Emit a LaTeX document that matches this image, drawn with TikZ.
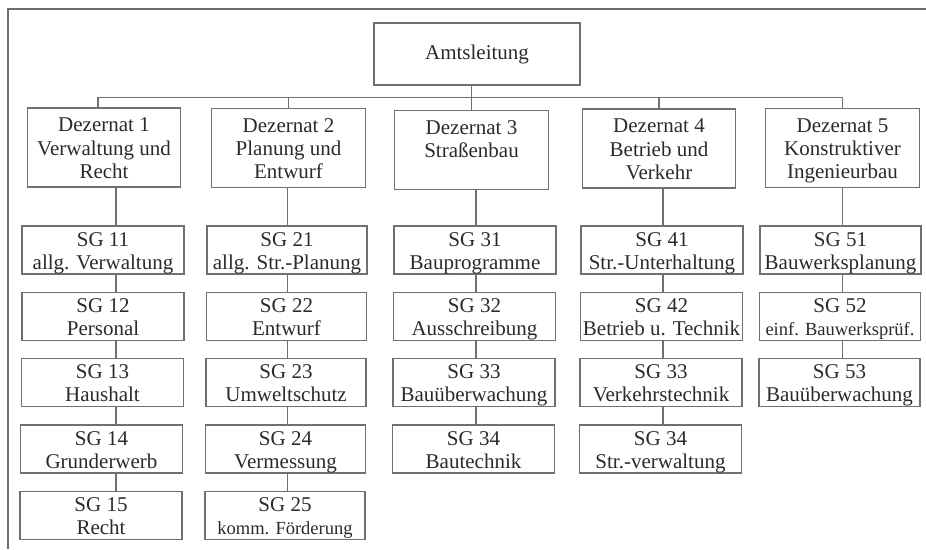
\documentclass[tikz,border=0pt]{standalone}
\usepackage{fontspec}
\setmainfont{Liberation Serif}
\usetikzlibrary{calc}

% struts that fix the first baseline and the last depth inside a box
\newcommand\sgtopstrut{\rule{0pt}{20pt}}
\newcommand\sgbotstrut{\rule[-4.7pt]{0pt}{4.7pt}}
\newcommand\deztopstrut{\rule{0pt}{23.7pt}}
\newcommand\dezbotstrut{\rule[-8.4pt]{0pt}{8.4pt}}
\newcommand\smalltxt[1]{{\fontsize{18.5}{23.3}\selectfont #1}}

\definecolor{framegray}{HTML}{6E6E6E}
\definecolor{boxgray}{HTML}{707070}
\definecolor{textgray}{HTML}{2A2A2A}

\begin{document}
\begin{tikzpicture}[x=1pt,y=-1pt,
  orgbox/.style={draw=boxgray,line width=1.3pt,rectangle,inner sep=0pt,
    align=center,text=textgray,font=\fontsize{21}{23.3}\selectfont},
  headbox/.style={orgbox,minimum width=206pt,minimum height=62pt},
  dezbox/.style={orgbox,minimum width=153.5pt,minimum height=79pt},
  sgbox/.style={orgbox,minimum height=48pt},
  link/.style={draw=boxgray,line width=1.3pt},
  frameline/.style={draw=framegray,line width=2pt}]

\useasboundingbox (0,0) rectangle (926,549);

% open frame: top and left edge only
\coordinate (fcorner) at (8,9);
\coordinate (fright) at (926,9);
\coordinate (fbottom) at (8,549);
\draw[frameline] (fright) -- (fcorner) -- (fbottom);

% top level
\node[headbox] (amt) at (477,54) {Amtsleitung};

% departments
\node[dezbox] (d1) at (104,147.5) {\deztopstrut Dezernat 1\\Verwaltung und\\Recht\dezbotstrut};
\node[dezbox] (d2) at (288.5,148) {\deztopstrut Dezernat 2\\Planung und\\Entwurf\dezbotstrut};
\node[dezbox] (d3) at (471.5,150) {\deztopstrut Dezernat 3\\Straßenbau\\\dezbotstrut};
\node[dezbox] (d4) at (659,148.5) {\deztopstrut Dezernat 4\\Betrieb und\\Verkehr\dezbotstrut};
\node[dezbox] (d5) at (842.5,148) {\deztopstrut Dezernat 5\\Konstruktiver\\Ingenieurbau\dezbotstrut};

% column 1
\begin{scope}[every node/.style={sgbox,minimum width=162pt}]
\node (sg11) at (103,250)   {\sgtopstrut SG 11\\allg. Verwaltung\sgbotstrut};
\node (sg12) at (103,316.5) {\sgtopstrut SG 12\\Personal\sgbotstrut};
\node (sg13) at (102.5,382.5) {\sgtopstrut SG 13\\Haushalt\sgbotstrut};
\node (sg14) at (101.5,449) {\sgtopstrut SG 14\\Grunderwerb\sgbotstrut};
\node (sg15) at (101,515.5) {\sgtopstrut SG 15\\Recht\sgbotstrut};
\end{scope}

% column 2
\begin{scope}[every node/.style={sgbox,minimum width=160pt}]
\node (sg21) at (287,250)   {\sgtopstrut SG 21\\allg. Str.-Planung\sgbotstrut};
\node (sg22) at (286.5,316.5) {\sgtopstrut SG 22\\Entwurf\sgbotstrut};
\node (sg23) at (286,382.5) {\sgtopstrut SG 23\\Umweltschutz\sgbotstrut};
\node (sg24) at (285.5,449) {\sgtopstrut SG 24\\Vermessung\sgbotstrut};
\node (sg25) at (285,515.5) {\sgtopstrut SG 25\\\smalltxt{komm. Förderung}\sgbotstrut};
\end{scope}

% column 3
\begin{scope}[every node/.style={sgbox,minimum width=162pt}]
\node (sg31) at (475,250)   {\sgtopstrut SG 31\\Bauprogramme\sgbotstrut};
\node (sg32) at (474.5,316.5) {\sgtopstrut SG 32\\Ausschreibung\sgbotstrut};
\node (sg33) at (474,382.5) {\sgtopstrut SG 33\\Bauüberwachung\sgbotstrut};
\node (sg34) at (473.5,449) {\sgtopstrut SG 34\\Bautechnik\sgbotstrut};
\end{scope}

% column 4
\begin{scope}[every node/.style={sgbox,minimum width=162pt}]
\node (sg41) at (662,250)   {\sgtopstrut SG 41\\Str.-Unterhaltung\sgbotstrut};
\node (sg42) at (661.5,316.5) {\sgtopstrut SG 42\\Betrieb u. Technik\sgbotstrut};
\node (sg43) at (661,382.5) {\sgtopstrut SG 33\\Verkehrstechnik\sgbotstrut};
\node (sg44) at (660.5,449) {\sgtopstrut SG 34\\Str.-verwaltung\sgbotstrut};
\end{scope}

% column 5
\begin{scope}[every node/.style={sgbox,minimum width=161pt}]
\node (sg51) at (840.5,250)   {\sgtopstrut SG 51\\Bauwerksplanung\sgbotstrut};
\node (sg52) at (840,316.5) {\sgtopstrut SG 52\\\smalltxt{einf. Bauwerksprüf.}\sgbotstrut};
\node (sg53) at (839.5,382.5) {\sgtopstrut SG 53\\Bauüberwachung\sgbotstrut};
\end{scope}

% bus from the top level to the departments
\coordinate (j1) at (98,97.5);
\draw[link] (j1 |- d1.north) -- (j1) -- (d5.north |- j1) -- (d5.north);
\draw[link] (d2.north) -- (d2.north |- j1);
\draw[link] (d4.north) -- (d4.north |- j1);
\draw[link] (amt.south -| d3.north) -- (d3.north);

% vertical chains in each column
\coordinate (x1) at (116,0);
\coordinate (x2) at (287.5,0);
\coordinate (x3) at (476,0);
\coordinate (x4) at (663,0);
\coordinate (x5) at (842.5,0);

\draw[link] (d1.south -| x1) -- (sg11.north -| x1)
  (sg11.south -| x1) -- (sg12.north -| x1)
  (sg12.south -| x1) -- (sg13.north -| x1)
  (sg13.south -| x1) -- (sg14.north -| x1)
  (sg14.south -| x1) -- (sg15.north -| x1);

\draw[link] (d2.south -| x2) -- (sg21.north -| x2)
  (sg21.south -| x2) -- (sg22.north -| x2)
  (sg22.south -| x2) -- (sg23.north -| x2)
  (sg23.south -| x2) -- (sg24.north -| x2)
  (sg24.south -| x2) -- (sg25.north -| x2);

\draw[link] (d3.south -| x3) -- (sg31.north -| x3)
  (sg31.south -| x3) -- (sg32.north -| x3)
  (sg32.south -| x3) -- (sg33.north -| x3)
  (sg33.south -| x3) -- (sg34.north -| x3);

\draw[link] (d4.south -| x4) -- (sg41.north -| x4)
  (sg41.south -| x4) -- (sg42.north -| x4)
  (sg42.south -| x4) -- (sg43.north -| x4)
  (sg43.south -| x4) -- (sg44.north -| x4);

\draw[link] (d5.south -| x5) -- (sg51.north -| x5)
  (sg51.south -| x5) -- (sg52.north -| x5)
  (sg52.south -| x5) -- (sg53.north -| x5);

\end{tikzpicture}
\end{document}
